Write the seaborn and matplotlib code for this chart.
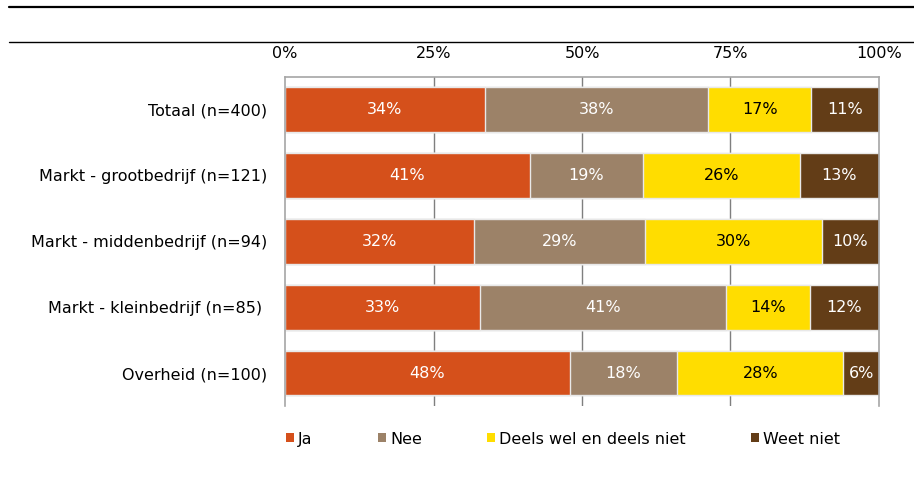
import matplotlib
matplotlib.use("Agg")
import matplotlib.pyplot as plt
import seaborn as sns
import pandas as pd
from matplotlib.lines import Line2D
from matplotlib.patches import Patch

groups = [
    "Totaal (n=400)",
    "Markt - grootbedrijf (n=121)",
    "Markt - middenbedrijf (n=94)",
    "Markt - kleinbedrijf (n=85) ",
    "Overheid (n=100)",
]
answers = ["Ja", "Nee", "Deels wel en deels niet", "Weet niet"]
ja = [33.6, 41.2, 31.8, 32.9, 48.0]
nee = [37.6, 19.1, 28.8, 41.3, 18.0]
deels = [17.4, 26.4, 29.8, 14.1, 28.0]
weet_niet = [11.4, 13.3, 9.6, 11.7, 6.0]
colors = ["#D5501B", "#9C8268", "#FFDD00", "#633D17"]
label_colors = ["white", "white", "black", "white"]
x_ticks = [0, 25, 50, 75, 100]

df = pd.DataFrame({"groep": groups, "Ja": ja, "Nee": nee,
                   "Deels wel en deels niet": deels, "Weet niet": weet_niet})
cum = df[answers].cumsum(axis=1)

sns.set_style("white")
plt.rcParams["font.family"] = ["DejaVu Sans"]
plt.rcParams["text.color"] = "black"

fs = 11.5
fig = plt.figure(figsize=(9.14, 4.98), dpi=100)
ax = fig.add_axes([285 / 914, 1 - 406 / 498, 594 / 914, 329.3 / 498])

# stacked bars: draw cumulative totals back to front
for i in range(len(answers) - 1, -1, -1):
    sns.barplot(x=cum[answers[i]], y=df["groep"], orient="h", color=colors[i],
                saturation=1, width=0.68, edgecolor="#E8E8E8", linewidth=1,
                ax=ax, zorder=2)

for i, a in enumerate(answers):
    for j in range(len(groups)):
        val = df[a][j]
        mid = cum[a][j] - val / 2
        ax.text(mid, j, f"{val:.0f}%", ha="center", va="center",
                color=label_colors[i], fontsize=fs, zorder=5)

ax.set_xlim(0, 100)
ax.set_ylim(4.5, -0.5)
ax.set_xticks(x_ticks)
ax.set_xticklabels([f"{t}%" for t in x_ticks])
ax.xaxis.tick_top()
ax.tick_params(axis="x", length=0, pad=11, labelsize=fs, colors="black")
ax.tick_params(axis="y", length=0, pad=13, labelsize=fs, colors="black")
ax.set_xlabel("")
ax.set_ylabel("")
for t in [25, 50, 75]:
    ax.axvline(t, color="#7F7F7F", linewidth=1, zorder=1)

for s in ["top", "left", "right"]:
    ax.spines[s].set_visible(True)
    ax.spines[s].set_color("#A6A6A6")
    ax.spines[s].set_linewidth(1.2)
ax.spines["bottom"].set_visible(False)

# decorative header rules
fig.add_artist(Line2D([9 / 914, 1], [1 - 7 / 498] * 2, color="black", linewidth=1.6))
fig.add_artist(Line2D([9 / 914, 1], [1 - 42 / 498] * 2, color="black", linewidth=1.0))

handles = [Patch(facecolor=c, edgecolor="none") for c in colors]
fig.legend(handles, answers, loc="center left", bbox_to_anchor=(286 / 914, 1 - 439 / 498),
           ncol=4, frameon=False, fontsize=fs, handlelength=0.5, handleheight=0.5,
           handletextpad=0.25, columnspacing=4.1, borderpad=0, borderaxespad=0)

fig.savefig("out.png", dpi=100)
